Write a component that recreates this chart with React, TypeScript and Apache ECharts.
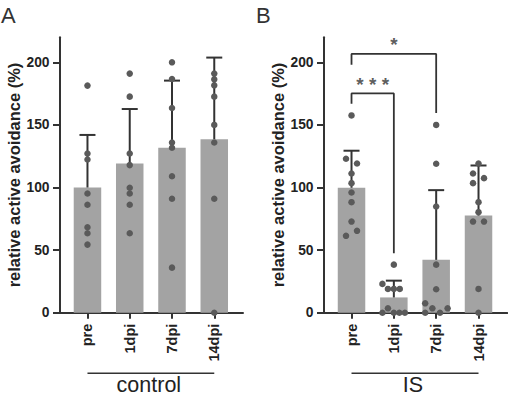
import React, { useEffect, useRef } from "react";
import * as echarts from "echarts";

const categories = ["pre", "1dpi", "7dpi", "14dpi"];
const yTicks = [0, 50, 100, 150, 200];

// Panel A (control)
const meansA = [100, 119.2, 131.8, 138.6];
const sdA = [42, 43.5, 53.6, 65.2];
const pointsA: number[][] = [
  [181.4, 127.2, 122.4, 95.2, 86.2, 68.3, 63.5, 54.4],
  [191, 172.6, 127.2, 117.9, 99.8, 95.2, 86.2, 63.5],
  [200, 186.7, 163.5, 136, 131.8, 109, 91, 36],
  [191, 186.4, 181.6, 172.6, 150, 136, 91, 0],
];

// Panel B (IS): [jitter (category units), value]
const meansB = [99.8, 12.2, 42.2, 77.6];
const sdB = [29.6, 13.4, 55.7, 40];
const pointsB: number[][][] = [
  [[0, 157.6], [-0.13, 123], [0.13, 119.2], [0, 111.2], [0, 103.5], [0, 96], [0, 88.3], [0, 72.8], [0.13, 65.4], [-0.13, 61.4]],
  [[0, 38.4], [-0.27, 23], [-0.14, 19], [0, 19], [0.14, 19], [-0.14, 3.5], [-0.27, 0], [0, 0], [0.13, 0], [0.26, 0]],
  [[0, 150], [0, 119], [0, 84.8], [0, 38.4], [0, 18.7], [-0.26, 7.5], [-0.09, 3.5], [0.27, 3.5], [-0.26, 0], [0.09, 0]],
  [[0, 119.2], [-0.13, 111.2], [0.13, 107.5], [-0.13, 103.5], [0, 88.3], [0, 80.3], [-0.13, 72.8], [0.13, 72.8], [0, 19], [0, 0]],
];

// significance brackets in panel B: [from, to, top, leftLegBottom, rightLegBottom, label]
const brackets: [number, number, number, number, number, string][] = [
  [0, 1, 175.2, 167, 47.5, "* * *"],
  [0, 2, 206.7, 198, 159.5, "*"],
];

const groupLabels = ["control", "IS"];
const panelLetters = ["A", "B"];

const FONT = "'Liberation Sans', Arial, Helvetica, sans-serif";
const DARK = "#333333";
const BAR = "#a3a3a3";
const DOT = "#5a5a5a";

export default function App() {
  const ref = useRef<HTMLDivElement>(null);
  useEffect(() => {
    if (!ref.current) return;
    const chart = echarts.init(ref.current, undefined, { renderer: "svg" });

    const grids = [
      { left: 60, top: 37.3, width: 183, height: 275.4 },
      { left: 324, top: 37.3, width: 183.3, height: 275.4 },
    ];

    const xAxes = grids.map((_, i) => ({
      type: "value",
      gridIndex: i,
      min: -0.65,
      max: 3.68,
      axisLine: { show: true, onZero: false, lineStyle: { color: DARK, width: 2 } },
      axisTick: { show: true, customValues: [0, 1, 2, 3], length: 6, lineStyle: { color: DARK, width: 2 } },
      axisLabel: {
        customValues: [0, 1, 2, 3],
        rotate: 90,
        margin: 11,
        align: "right",
        verticalAlign: "middle",
        formatter: (v: number) => categories[Math.round(v)],
        fontFamily: FONT,
        fontWeight: "bold",
        fontSize: 14.5,
        color: "#222",
      },
      splitLine: { show: false },
    }));

    const yAxes = grids.map((_, i) => ({
      type: "value",
      gridIndex: i,
      min: 0,
      max: 220,
      name: "relative active avoidance (%)",
      nameLocation: "middle",
      nameGap: 38,
      nameTextStyle: { fontFamily: FONT, fontWeight: "bold", fontSize: 16.5, color: "#222" },
      axisLine: { show: true, onZero: false, lineStyle: { color: DARK, width: 2 } },
      axisTick: { show: true, customValues: yTicks, length: 7, lineStyle: { color: DARK, width: 2 } },
      axisLabel: {
        customValues: yTicks,
        margin: 10.5,
        fontFamily: FONT,
        fontWeight: "bold",
        fontSize: 13.8,
        color: "#222",
      },
      splitLine: { show: false },
    }));

    const series: any[] = [];
    const means = [meansA, meansB];
    const sds = [sdA, sdB];
    const pts: number[][][][] = [
      pointsA.map((vals) => vals.map((v) => [0, v])),
      pointsB,
    ];

    for (let g = 0; g < 2; g++) {
      series.push({
        type: "bar",
        xAxisIndex: g,
        yAxisIndex: g,
        barWidth: 27.5,
        itemStyle: { color: BAR },
        data: means[g].map((m, i) => [i, m]),
        z: 1,
      });
      series.push({
        type: "custom",
        xAxisIndex: g,
        yAxisIndex: g,
        z: 3,
        data: means[g].map((m, i) => [i, m, m + sds[g][i]]),
        renderItem: (params: any, api: any) => {
          const x = api.value(0);
          const lo = api.coord([x, api.value(1)]);
          const hi = api.coord([x, api.value(2)]);
          const half = 8;
          return {
            type: "group",
            children: [
              { type: "line", shape: { x1: lo[0], y1: lo[1], x2: hi[0], y2: hi[1] }, style: { stroke: DARK, lineWidth: 2 } },
              { type: "line", shape: { x1: hi[0] - half, y1: hi[1], x2: hi[0] + half, y2: hi[1] }, style: { stroke: DARK, lineWidth: 2 } },
            ],
          };
        },
      });
      series.push({
        type: "scatter",
        xAxisIndex: g,
        yAxisIndex: g,
        symbolSize: 6.5,
        itemStyle: { color: DOT, opacity: 1 },
        z: 4,
        data: pts[g].flatMap((list, i) => list.map((p) => [i + p[0], p[1]])),
      });
    }

    brackets.forEach((b) => {
      const [a, c, top, l, r, label] = b;
      series.push({
        type: "line",
        xAxisIndex: 1,
        yAxisIndex: 1,
        symbol: "none",
        lineStyle: { color: DARK, width: 1.8 },
        z: 2,
        data: [[a, l], [a, top], [c, top], [c, r]],
      });
      series.push({
        type: "scatter",
        xAxisIndex: 1,
        yAxisIndex: 1,
        symbolSize: 1,
        itemStyle: { color: "rgba(0,0,0,0)" },
        z: 5,
        data: [[(a + c) / 2, top]],
        label: {
          show: true,
          position: "top",
          distance: -1,
          formatter: label,
          fontFamily: FONT,
          fontSize: 19,
          fontWeight: "bold",
          color: DARK,
        },
      });
    });

    chart.setOption({
      animation: false,
      backgroundColor: "#ffffff",
      grid: grids,
      xAxis: xAxes,
      yAxis: yAxes,
      series,
    });

    const graphics: any[] = [];
    for (let g = 0; g < 2; g++) {
      const x0 = chart.convertToPixel({ xAxisIndex: g } as any, 0) as number;
      const x3 = chart.convertToPixel({ xAxisIndex: g } as any, 3) as number;
      graphics.push({
        type: "line",
        shape: { x1: x0, y1: 373.3, x2: x3, y2: 373.3 },
        style: { stroke: DARK, lineWidth: 1.6 },
      });
      graphics.push({
        type: "text",
        x: (x0 + x3) / 2 - 2,
        y: 384.5,
        style: {
          text: groupLabels[g],
          fontFamily: FONT,
          fontSize: 21.5,
          fill: "#222",
          align: "center",
          verticalAlign: "middle",
        },
      });
      graphics.push({
        type: "text",
        x: g === 0 ? 1 : 256,
        y: 15,
        style: {
          text: panelLetters[g],
          fontFamily: FONT,
          fontSize: 22,
          fill: DARK,
          align: "left",
          verticalAlign: "middle",
        },
      });
    }
    chart.setOption({ graphic: graphics });

    return () => chart.dispose();
  }, []);

  return <div ref={ref} style={{ position: "fixed", left: 0, top: 0, width: 508, height: 399, background: "#fff" }} />;
}
